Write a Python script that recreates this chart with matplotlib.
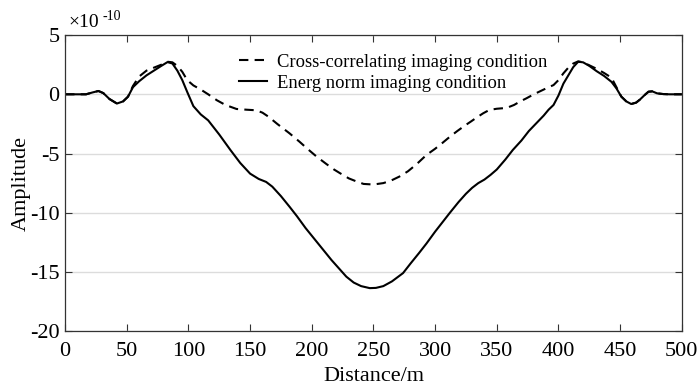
import numpy as np
import matplotlib
matplotlib.use('agg')
import matplotlib.pyplot as plt

plt.rcParams['font.family'] = ['Liberation Serif', 'DejaVu Serif']
plt.rcParams['axes.unicode_minus'] = False

# energy norm imaging condition (solid)
x_energ = [0, 10, 17, 22, 27, 31, 36, 42, 47, 51, 55, 60, 66, 72, 78, 83, 87, 91, 95, 99,
           104, 110, 116, 125, 134, 142, 150, 157, 163, 168, 175, 182, 188, 195, 202, 209,
           216, 222, 228, 234, 240, 247, 252, 258, 265, 274, 280, 287, 293, 300, 306, 312,
           319, 325, 330, 335, 340, 345, 350, 357, 363, 370, 376, 382, 388, 392, 396, 400,
           404, 408, 412, 416, 420, 425, 431, 437, 443, 447, 451, 455, 459, 463, 466, 470,
           473, 476, 480, 485, 490, 500]
y_energ = [0, 0, 0, 0.15, 0.28, 0.1, -0.4, -0.78, -0.6, -0.2, 0.6, 1.1, 1.6, 2.0, 2.4, 2.72,
           2.6, 2.0, 1.2, 0.2, -1.0, -1.7, -2.2, -3.4, -4.7, -5.8, -6.7, -7.15, -7.4, -7.8,
           -8.6, -9.5, -10.3, -11.3, -12.2, -13.1, -14.0, -14.7, -15.4, -15.9, -16.2, -16.37,
           -16.35, -16.2, -15.8, -15.1, -14.3, -13.4, -12.6, -11.6, -10.8, -10.0, -9.1, -8.4,
           -7.9, -7.5, -7.2, -6.8, -6.35, -5.5, -4.7, -3.9, -3.1, -2.45, -1.8, -1.3, -0.9,
           -0.1, 0.9, 1.6, 2.3, 2.75, 2.7, 2.4, 1.95, 1.55, 1.05, 0.5, -0.2, -0.6, -0.82,
           -0.7, -0.45, -0.05, 0.22, 0.25, 0.08, 0.02, 0, 0]

# cross-correlating imaging condition (dashed)
x_cross = [0, 10, 17, 22, 27, 31, 36, 42, 47, 51, 55, 60, 66, 72, 78, 83, 87, 91, 95, 99,
           104, 110, 116, 123, 130, 139, 147, 155, 160, 165, 172, 182, 190, 197, 204, 212,
           218, 223, 230, 236, 242, 250, 258, 264, 271, 278, 285, 293, 300, 306, 312, 318,
           324, 329, 334, 339, 344, 350, 358, 364, 369, 374, 380, 386, 391, 396, 400, 404,
           408, 412, 416, 420, 425, 431, 437, 443, 447, 451, 455, 459, 463, 466, 470, 473,
           476, 480, 485, 490, 500]
y_cross = [0, 0, 0, 0.15, 0.28, 0.1, -0.4, -0.78, -0.6, -0.2, 0.7, 1.5, 2.0, 2.25, 2.5, 2.75,
           2.7, 2.4, 1.9, 1.2, 0.75, 0.4, 0.0, -0.5, -0.9, -1.24, -1.3, -1.35, -1.55, -1.9,
           -2.5, -3.3, -4.0, -4.65, -5.27, -5.9, -6.35, -6.67, -7.1, -7.35, -7.57, -7.62,
           -7.5, -7.3, -6.95, -6.5, -5.9, -5.12, -4.6, -4.1, -3.58, -3.1, -2.65, -2.3, -1.94,
           -1.6, -1.32, -1.22, -1.15, -0.9, -0.6, -0.34, 0.0, 0.3, 0.55, 0.78, 1.2, 1.77,
           2.25, 2.6, 2.78, 2.7, 2.45, 2.15, 1.8, 1.4, 0.6, -0.2, -0.6, -0.82, -0.7, -0.45,
           -0.05, 0.22, 0.25, 0.08, 0.02, 0, 0]

xticks = [0, 50, 100, 150, 200, 250, 300, 350, 400, 450, 500]
yticks = [5, 0, -5, -10, -15, -20]

fig = plt.figure(figsize=(7, 3.9), dpi=100)
ax = fig.add_axes([0.093, 0.151, 0.881, 0.759])

ax.plot(x_cross, y_cross, color='black', lw=1.5, linestyle=(0, (4.5, 3)),
        label='Cross-correlating imaging condition')
ax.plot(x_energ, y_energ, color='black', lw=1.5,
        label='Energ norm imaging condition')

ax.set_xlim(0, 500)
ax.set_ylim(-20, 5)
ax.set_xticks(xticks)
ax.set_yticks(yticks)
ax.yaxis.grid(True, color='#dcdcdc', lw=1)
ax.set_axisbelow(True)
ax.tick_params(direction='in', top=True, right=True, length=5, width=0.8,
               labelsize=16, color='#333333')
ax.tick_params(axis='x', pad=7.5)
ax.tick_params(axis='y', pad=4)
for s in ax.spines.values():
    s.set_color('#333333')
    s.set_linewidth(0.9)

ax.set_xlabel('Distance/m', fontsize=16, labelpad=5)
ax.set_ylabel('Amplitude', fontsize=16, labelpad=-0.5)

# exponent label above the axes
ax.text(0.005, 1.027, '\u00d710', transform=ax.transAxes, fontsize=14,
        ha='left', va='baseline')
ax.text(0.06, 1.051, '-10', transform=ax.transAxes, fontsize=10,
        ha='left', va='baseline')

ax.legend(loc='upper left', bbox_to_anchor=(0.342, 0.862), bbox_transform=fig.transFigure,
          frameon=False, fontsize=13.4, handlelength=1.5, handletextpad=0.5,
          labelspacing=0.2, borderaxespad=0, borderpad=0)

fig.savefig('out.png', dpi=100)
plt.close(fig)
